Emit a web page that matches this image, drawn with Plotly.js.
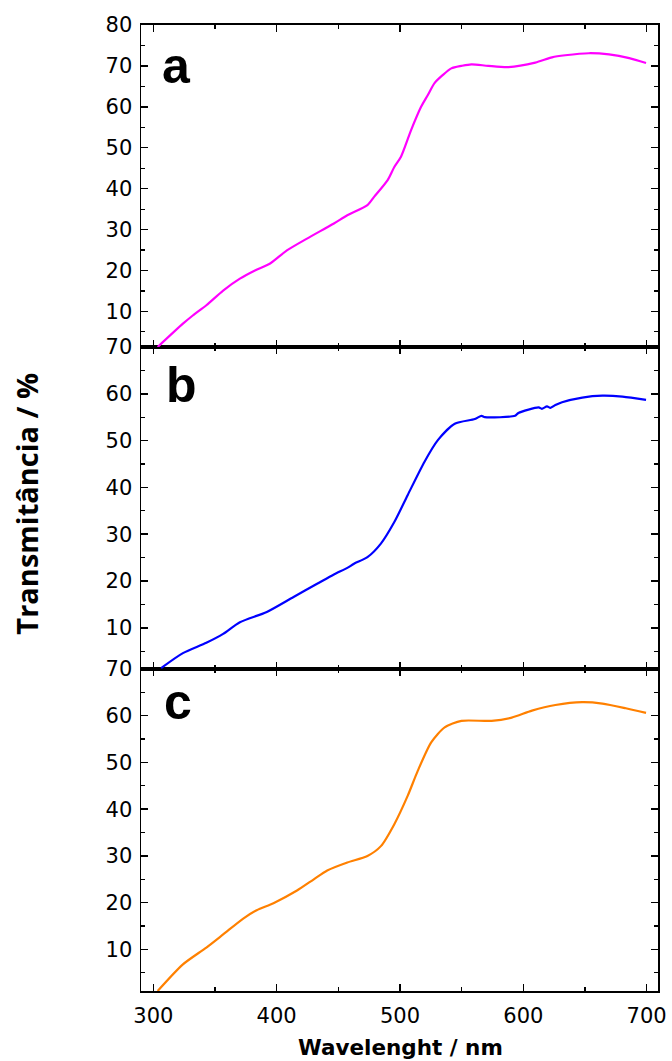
<!DOCTYPE html>
<html><head><meta charset="utf-8">
<script src="https://cdn.plot.ly/plotly-3.0.1.min.js"></script>
<style>body{margin:0;background:#fff}</style>
</head><body><div id="chart" style="width:672px;height:1061px"></div>
<script>
// Panel a (magenta)
const wavelengthA = [303.5, 324, 332, 343, 356.6, 370.2, 382.4, 394.7, 408.3, 424.6, 446.4, 457.3, 473.6, 479, 490, 495.4, 500.8, 509, 517.1, 522.6, 528, 534.8, 541.6, 549.8, 558, 571.6, 587.9, 609.7, 623.3, 634, 653.2, 669.5, 685.9, 699.5];
const transA = [1.3, 7.0, 9.0, 11.5, 15.1, 18.0, 20.0, 21.7, 24.9, 27.8, 31.5, 33.5, 36.0, 38.0, 42.1, 45.3, 47.8, 54.3, 60.0, 62.9, 65.8, 67.8, 69.4, 70.0, 70.4, 70.0, 69.7, 70.8, 72.1, 72.6, 73.1, 72.8, 71.9, 70.7];
// Panel b (blue)
const wavelengthB = [306.3, 324, 343, 356.6, 370.2, 392, 413.7, 432.8, 446.4, 457.3, 462.7, 473.6, 484.5, 495.4, 506.3, 519.9, 530.7, 544.4, 560.7, 566.1, 568.8, 593.3, 596, 612.4, 615, 619.2, 622, 626, 631.4, 647.8, 664.1, 680.4, 699.5];
const transB = [1.4, 4.6, 6.8, 8.7, 11.2, 13.4, 16.6, 19.4, 21.4, 22.8, 23.7, 25.1, 28.0, 32.6, 38.4, 45.5, 50.1, 53.6, 54.6, 55.3, 55.0, 55.3, 55.9, 57.1, 56.8, 57.3, 57.0, 57.6, 58.2, 59.2, 59.6, 59.4, 58.7];
// Panel c (orange)
const wavelengthC = [303.5, 324, 343, 356.6, 372.9, 383.8, 397.4, 416.5, 430.1, 441, 457.3, 473.6, 484.5, 495.4, 506.3, 514.4, 525.3, 536.2, 549.8, 574.3, 590.6, 607, 626, 647.8, 664.1, 683.1, 699.5];
const transC = [1.1, 6.8, 10.4, 13.2, 16.6, 18.4, 19.9, 22.6, 25.0, 26.9, 28.6, 30.0, 32.1, 36.8, 42.9, 48.2, 54.3, 57.5, 58.9, 58.9, 59.6, 61.1, 62.3, 62.9, 62.6, 61.6, 60.6];

const panelLabels = ['a', 'b', 'c'];
const xTitle = 'Wavelenght / nm';
const yTitle = 'Transmitância / %';

const tickFont = {family: 'DejaVu Sans', size: 21, color: '#000'};

function trace(x, y, color, xa, ya) {
  return {x: x, y: y, type: 'scatter', mode: 'lines', xaxis: xa, yaxis: ya,
    line: {color: color, width: 2.2, shape: 'spline', smoothing: 0.7}, hoverinfo: 'skip'};
}

const data = [
  trace(wavelengthA, transA, '#FF00FF', 'x3', 'y3'),
  trace(wavelengthB, transB, '#0000FF', 'x2', 'y2'),
  trace(wavelengthC, transC, '#FF8000', 'x', 'y')
];

function xax(anchor, showLabels) {
  return {anchor: anchor, range: [290, 709.2], tick0: 300, dtick: 100, ticks: 'inside', ticklen: 7,
    tickwidth: 1.5, tickcolor: '#000', showline: true, linecolor: '#000', linewidth: 2,
    mirror: 'allticks', showgrid: false, zeroline: false, showticklabels: showLabels,
    tickfont: tickFont, ticklabelstandoff: 5,
    minor: {dtick: 50, tick0: 300, ticks: 'inside', ticklen: 4, tickwidth: 1.2, tickcolor: '#000'}};
}
function yax(anchor, domain, range, tickvals) {
  return {anchor: anchor, domain: domain, range: range, tickvals: tickvals, ticks: 'inside', ticklen: 7,
    tickwidth: 1.5, tickcolor: '#000', showline: true, linecolor: '#000', linewidth: 1.5,
    mirror: 'allticks', showgrid: false, zeroline: false, tickfont: tickFont, ticklabelstandoff: 3,
    minor: {tickvals: [5,15,25,35,45,55,65,75], ticks: 'inside', ticklen: 4, tickwidth: 1.2, tickcolor: '#000'}};
}

const layout = {
  width: 672, height: 1061,
  margin: {l: 141, r: 14, t: 25, b: 70},
  paper_bgcolor: '#fff', plot_bgcolor: '#fff',
  showlegend: false,
  xaxis: xax('y', true),
  xaxis2: Object.assign(xax('y2', false), {matches: 'x'}),
  xaxis3: Object.assign(xax('y3', false), {matches: 'x'}),
  yaxis: yax('x', [0, 1/3], [1.1, 70], [10,20,30,40,50,60,70]),
  yaxis2: yax('x2', [1/3, 2/3], [1.2, 70], [10,20,30,40,50,60,70]),
  yaxis3: yax('x3', [2/3, 1], [1.3, 80], [10,20,30,40,50,60,70,80]),
  annotations: [
    {text: panelLabels[0], xref: 'paper', yref: 'paper', x: 0.037, y: 0.958, xanchor: 'left', yanchor: 'middle', showarrow: false, font: {family: 'Liberation Sans', size: 50, color: '#000', weight: 'bold'}},
    {text: panelLabels[1], xref: 'paper', yref: 'paper', x: 0.044, y: 0.627, xanchor: 'left', yanchor: 'middle', showarrow: false, font: {family: 'Liberation Sans', size: 50, color: '#000', weight: 'bold'}},
    {text: panelLabels[2], xref: 'paper', yref: 'paper', x: 0.041, y: 0.2987, xanchor: 'left', yanchor: 'middle', showarrow: false, font: {family: 'Liberation Sans', size: 50, color: '#000', weight: 'bold'}},
    {text: xTitle, xref: 'paper', yref: 'paper', x: 0.501, y: -0.059, xanchor: 'center', yanchor: 'middle', showarrow: false, font: {family: 'DejaVu Sans', size: 21.5, color: '#000', weight: 'bold'}},
    {text: yTitle, xref: 'paper', yref: 'paper', x: -0.2215, y: 0.505, xanchor: 'center', yanchor: 'middle', textangle: -90, showarrow: false, font: {family: 'Open Sans', size: 29, color: '#000', weight: 'bold'}}
  ]
};

Plotly.newPlot('chart', data, layout, {staticPlot: true, displayModeBar: false});
</script>
</body></html>
